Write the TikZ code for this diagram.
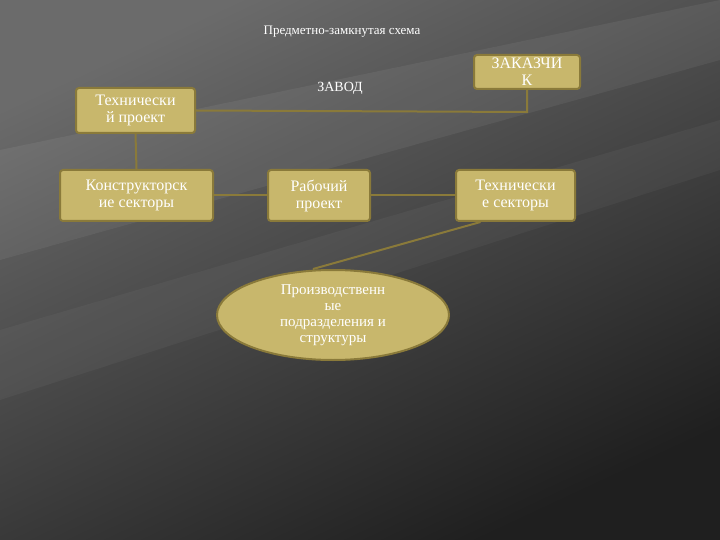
\documentclass[tikz,border=0pt]{standalone}
\usepackage{fontspec}
\setmainfont{Liberation Serif}
\usetikzlibrary{shapes.geometric}
\definecolor{boxfill}{HTML}{C8B76C}
\definecolor{boxline}{HTML}{8A7A3A}
\begin{document}
\begin{tikzpicture}[x=1pt,y=-1pt,
  box/.style={draw=boxline,line width=2pt,fill=boxfill,rounded corners=3pt,text=white,align=center,font=\fontsize{16}{17}\selectfont,inner sep=0pt},
  conn/.style={draw=boxline,line width=2pt}]
\useasboundingbox (0,0) rectangle (720,540);
\shade[top color=black!58,bottom color=black!88,shading angle=25] (0,0) rectangle (720,540);
\fill[white,opacity=0.06] (0,150) -- (720,0) -- (720,60) -- (0,260) -- cycle;
\fill[white,opacity=0.04] (0,330) -- (720,120) -- (720,170) -- (0,400) -- cycle;
\node[text=white,font=\fontsize{13}{14}\selectfont] (title) at (342,32) {Предметно-замкнутая схема};
\node[text=white,font=\fontsize{14}{15}\selectfont] (zavod) at (340,88) {ЗАВОД};
\node[box,minimum width=106pt,minimum height=34pt] (zak) at (527,72) {ЗАКАЗЧИ\\К};
\node[box,minimum width=119pt,minimum height=45pt] (tp) at (135.5,110.5) {Технически\\й проект};
\node[box,minimum width=153pt,minimum height=51pt] (ks) at (136.5,195.5) {Конструкторск\\ие секторы};
\node[box,minimum width=102pt,minimum height=51pt] (rp) at (319,195.5) {Рабочий\\проект};
\node[box,minimum width=119pt,minimum height=51pt] (ts) at (515.5,195.5) {Технически\\е секторы};
\node[ellipse,draw=boxline,line width=2pt,fill=boxfill,text=white,align=center,font=\fontsize{15}{16}\selectfont,minimum width=232pt,minimum height=90pt,inner sep=0pt] (pr) at (333,315) {Производственн\\ые\\подразделения и\\структуры};
\coordinate (c1) at (527,112);
\draw[conn] (tp.east) -- (c1) -- (zak.south);
\draw[conn] (tp.south) -- (ks.north);
\draw[conn] (ks.east) -- (rp.west);
\draw[conn] (rp.east) -- (ts.west);
\coordinate (pn) at ([xshift=-20pt]pr.north);
\draw[conn] (pn) -- ([xshift=-35pt]ts.south);
\end{tikzpicture}
\end{document}
